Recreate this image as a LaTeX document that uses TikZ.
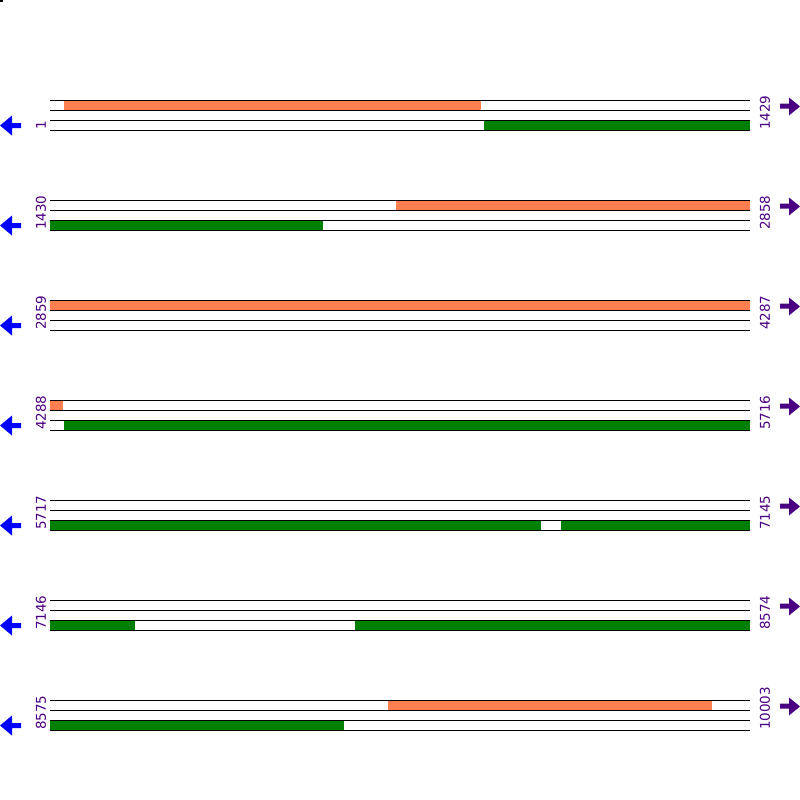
\documentclass[tikz,border=0pt]{standalone}
\usepackage{fontspec}
\setmainfont{DejaVu Sans}
\definecolor{bandorange}{HTML}{FF7F50}
\definecolor{bandgreen}{HTML}{008000}
\definecolor{labpurple}{HTML}{4B0082}
\definecolor{arrblue}{HTML}{0000FF}
\begin{document}
\begin{tikzpicture}[x=1pt,y=-1pt,
  track/.style={draw=black,line width=1pt},
  orangeband/.style={fill=bandorange},
  greenband/.style={fill=bandgreen},
  poslabel/.style={text=labpurple,font=\fontsize{13.5}{14}\selectfont,rotate=90,anchor=west,inner sep=0pt},
  leftarrow/.style={fill=arrblue},
  rightarrow/.style={fill=labpurple}]
\useasboundingbox (0,0) rectangle (800,800);
\fill (0,0) rectangle (3,2);
\foreach \k/\a/\b in {0/1/1429,1/1430/2858,2/2859/4287,3/4288/5716,4/5717/7145,5/7146/8574,6/8575/10003}{
  \pgfmathsetmacro{\y}{100+100*\k}
  \node[poslabel] (l\k) at (41,\y+30) {\a};
  \node[poslabel] (r\k) at (765,\y+30) {\b};
  \fill[leftarrow] (0,\y+25.5) -- (12,\y+15.5) -- (12,\y+23) -- (21,\y+23) -- (21,\y+28) -- (12,\y+28) -- (12,\y+35.5) -- cycle;
  \fill[rightarrow] (800,\y+6.5) -- (789,\y-2.5) -- (789,\y+3.5) -- (780,\y+3.5) -- (780,\y+8.5) -- (789,\y+8.5) -- (789,\y+15.5) -- cycle;
}
% bands
\fill[orangeband] (64,100) rectangle (481,110);
\fill[greenband] (484,120) rectangle (750,130);
\fill[orangeband] (396,200) rectangle (750,210);
\fill[greenband] (50,220) rectangle (323,230);
\fill[orangeband] (50,300) rectangle (750,310);
\fill[orangeband] (50,400) rectangle (63,410);
\fill[greenband] (64,420) rectangle (750,430);
\fill[greenband] (50,520) rectangle (541,530);
\fill[greenband] (561,520) rectangle (750,530);
\fill[greenband] (50,620) rectangle (135,630);
\fill[greenband] (355,620) rectangle (750,630);
\fill[orangeband] (388,700) rectangle (712,710);
\fill[greenband] (50,720) rectangle (344,730);
% track lines
\foreach \k in {0,...,6}{
  \foreach \d in {0,10,20,30}{
    \draw[track] (50,100+100*\k+\d) -- (750,100+100*\k+\d);
  }
}
\end{tikzpicture}
\end{document}
